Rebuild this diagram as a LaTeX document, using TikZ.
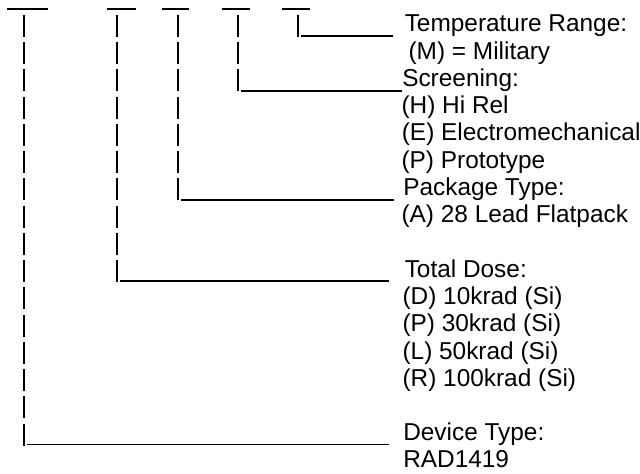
\documentclass[tikz,border=0pt]{standalone}
\usepackage{fontspec}
\setmainfont{Liberation Sans}
\begin{document}
\begin{tikzpicture}[x=0.75pt,y=-0.75pt,
  lbl/.style={anchor=base west,inner sep=0pt,font=\fontsize{18.3pt}{21pt}\selectfont},
  pipe/.style={line width=1.5pt,line cap=butt,dash pattern=on 16.5pt off 3.9375pt},
  bar/.style={line width=1.2pt,line cap=butt}]
\useasboundingbox (0,0) rectangle (640,474);

% labels
\node[lbl] (temp)  at (404.5,32)    {Temperature Range:};
\node[lbl] (mil)   at (408.3,59.25) {(M) = Military};
\node[lbl] (scr)   at (402,86.5)    {Screening:};
\node[lbl] (hrel)  at (401.3,113.75){(H) Hi Rel};
\node[lbl] (elec)  at (401.6,141)   {(E) Electromechanical};
\node[lbl] (proto) at (401.3,168.25){(P) Prototype};
\node[lbl] (pkg)   at (403,195.5)   {Package Type:};
\node[lbl] (flat)  at (401.3,222.75){(A) 28 Lead Flatpack};
\node[lbl] (dose)  at (404.5,277.25){Total Dose:};
\node[lbl] (d10)   at (402.3,304.5) {(D) 10krad (Si)};
\node[lbl] (d30)   at (402.3,331.75){(P) 30krad (Si)};
\node[lbl] (d50)   at (402.3,359)   {(L) 50krad (Si)};
\node[lbl] (d100)  at (402.3,386.25){(R) 100krad (Si)};
\node[lbl] (dev)   at (403,440.75)  {Device Type:};
\node[lbl] (rad)   at (403,468)     {RAD1419};

% top bars
\coordinate (a1) at (7,9);   \coordinate (b1) at (48,9);
\coordinate (a2) at (107,9); \coordinate (b2) at (136,9);
\coordinate (a3) at (162,9); \coordinate (b3) at (189,9);
\coordinate (a4) at (222,9); \coordinate (b4) at (250,9);
\coordinate (a5) at (282,9); \coordinate (b5) at (310,9);
\foreach \i in {1,...,5} \draw[bar] (a\i) -- (b\i);

% column 5 -> Temperature Range
\coordinate (p5) at (298.3,15);  \coordinate (q5) at (298.3,37);
\coordinate (h5) at (301,36);    \coordinate (e5) at (393,36);
\draw[pipe] (p5) -- (q5);
\draw[bar] (h5) -- (e5);

% column 4 -> Screening
\coordinate (p4) at (238,15);    \coordinate (q4) at (238,92);
\coordinate (h4) at (241,91);    \coordinate (e4) at (402,91);
\draw[pipe] (p4) -- (q4);
\draw[bar] (h4) -- (e4);

% column 3 -> Package Type
\coordinate (p3) at (177.7,15);  \coordinate (q3) at (177.7,201);
\coordinate (h3) at (181,200);   \coordinate (e3) at (394,200);
\draw[pipe] (p3) -- (q3);
\draw[bar] (h3) -- (e3);

% column 2 -> Total Dose
\coordinate (p2) at (117,15);    \coordinate (q2) at (117,282.25);
\coordinate (h2) at (120,281.25);\coordinate (e2) at (389,281.25);
\draw[pipe] (p2) -- (q2);
\draw[bar] (h2) -- (e2);

% column 1 -> Device Type
\coordinate (p1) at (23.5,15);   \coordinate (q1) at (23.5,445.75);
\coordinate (h1) at (26.5,444.5);\coordinate (e1) at (389,444.5);
\draw[pipe] (p1) -- (q1);
\draw[bar] (h1) -- (e1);
\end{tikzpicture}
\end{document}
